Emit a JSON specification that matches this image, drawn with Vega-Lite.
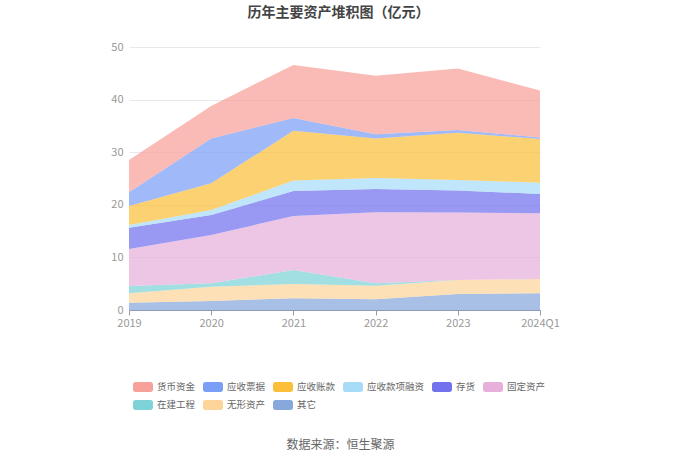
{
  "$schema": "https://vega.github.io/schema/vega-lite/v6.json",
  "autosize": "none",
  "width": 411,
  "height": 263,
  "padding": {"left": 129, "top": 47, "right": 140, "bottom": 150},
  "background": "white",
  "config": {
    "font": "Noto Sans CJK SC",
    "view": {"stroke": null}
  },
  "title": {
    "text": "历年主要资产堆积图（亿元）",
    "fontSize": 14,
    "fontWeight": "bold",
    "color": "#444444",
    "anchor": "middle",
    "dx": 4,
    "offset": 21
  },
  "data": {
    "values": [
      {"period": "2019", "item": "其它", "rank": 1, "value": 1.39},
      {"period": "2019", "item": "无形资产", "rank": 2, "value": 1.78},
      {"period": "2019", "item": "在建工程", "rank": 3, "value": 1.39},
      {"period": "2019", "item": "固定资产", "rank": 4, "value": 7.04},
      {"period": "2019", "item": "存货", "rank": 5, "value": 4.05},
      {"period": "2019", "item": "应收款项融资", "rank": 6, "value": 0.51},
      {"period": "2019", "item": "应收账款", "rank": 7, "value": 3.61},
      {"period": "2019", "item": "应收票据", "rank": 8, "value": 2.6},
      {"period": "2019", "item": "货币资金", "rank": 9, "value": 6.13},
      {"period": "2020", "item": "其它", "rank": 1, "value": 1.71},
      {"period": "2020", "item": "无形资产", "rank": 2, "value": 2.73},
      {"period": "2020", "item": "在建工程", "rank": 3, "value": 0.63},
      {"period": "2020", "item": "固定资产", "rank": 4, "value": 9.19},
      {"period": "2020", "item": "存货", "rank": 5, "value": 3.8},
      {"period": "2020", "item": "应收款项融资", "rank": 6, "value": 0.94},
      {"period": "2020", "item": "应收账款", "rank": 7, "value": 5.08},
      {"period": "2020", "item": "应收票据", "rank": 8, "value": 8.52},
      {"period": "2020", "item": "货币资金", "rank": 9, "value": 6.2},
      {"period": "2021", "item": "其它", "rank": 1, "value": 2.22},
      {"period": "2021", "item": "无形资产", "rank": 2, "value": 2.72},
      {"period": "2021", "item": "在建工程", "rank": 3, "value": 2.66},
      {"period": "2021", "item": "固定资产", "rank": 4, "value": 10.27},
      {"period": "2021", "item": "存货", "rank": 5, "value": 4.73},
      {"period": "2021", "item": "应收款项融资", "rank": 6, "value": 2.0},
      {"period": "2021", "item": "应收账款", "rank": 7, "value": 9.5},
      {"period": "2021", "item": "应收票据", "rank": 8, "value": 2.4},
      {"period": "2021", "item": "货币资金", "rank": 9, "value": 10.1},
      {"period": "2022", "item": "其它", "rank": 1, "value": 2.03},
      {"period": "2022", "item": "无形资产", "rank": 2, "value": 2.6},
      {"period": "2022", "item": "在建工程", "rank": 3, "value": 0.44},
      {"period": "2022", "item": "固定资产", "rank": 4, "value": 13.5},
      {"period": "2022", "item": "存货", "rank": 5, "value": 4.43},
      {"period": "2022", "item": "应收款项融资", "rank": 6, "value": 2.1},
      {"period": "2022", "item": "应收账款", "rank": 7, "value": 7.5},
      {"period": "2022", "item": "应收票据", "rank": 8, "value": 0.8},
      {"period": "2022", "item": "货币资金", "rank": 9, "value": 11.15},
      {"period": "2023", "item": "其它", "rank": 1, "value": 3.04},
      {"period": "2023", "item": "无形资产", "rank": 2, "value": 2.66},
      {"period": "2023", "item": "在建工程", "rank": 3, "value": 0.02},
      {"period": "2023", "item": "固定资产", "rank": 4, "value": 12.8},
      {"period": "2023", "item": "存货", "rank": 5, "value": 4.2},
      {"period": "2023", "item": "应收款项融资", "rank": 6, "value": 2.0},
      {"period": "2023", "item": "应收账款", "rank": 7, "value": 9.0},
      {"period": "2023", "item": "应收票据", "rank": 8, "value": 0.5},
      {"period": "2023", "item": "货币资金", "rank": 9, "value": 11.7},
      {"period": "2024Q1", "item": "其它", "rank": 1, "value": 3.17},
      {"period": "2024Q1", "item": "无形资产", "rank": 2, "value": 2.73},
      {"period": "2024Q1", "item": "在建工程", "rank": 3, "value": 0.01},
      {"period": "2024Q1", "item": "固定资产", "rank": 4, "value": 12.5},
      {"period": "2024Q1", "item": "存货", "rank": 5, "value": 3.65},
      {"period": "2024Q1", "item": "应收款项融资", "rank": 6, "value": 2.15},
      {"period": "2024Q1", "item": "应收账款", "rank": 7, "value": 8.3},
      {"period": "2024Q1", "item": "应收票据", "rank": 8, "value": 0.3},
      {"period": "2024Q1", "item": "货币资金", "rank": 9, "value": 8.9}
    ]
  },
  "mark": {"type": "area", "fillOpacity": 0.72, "strokeWidth": 0},
  "encoding": {
    "x": {
      "field": "period",
      "type": "ordinal",
      "sort": null,
      "scale": {"type": "point", "padding": 0},
      "axis": {
        "labelAngle": 0,
        "labelColor": "#999999",
        "labelFontSize": 11,
        "labelPadding": 2,
        "domainColor": "#8e9bb3",
        "tickColor": "#8e9bb3",
        "tickSize": 5,
        "grid": false,
        "title": "数据来源：恒生聚源",
        "titleFontSize": 12,
        "titleFontWeight": "normal",
        "titleColor": "#666666",
        "titlePadding": 111,
        "titleX": 211,
        "titleAlign": "center"
      }
    },
    "y": {
      "field": "value",
      "type": "quantitative",
      "stack": "zero",
      "scale": {"domain": [0, 50]},
      "axis": {
        "values": [0, 10, 20, 30, 40, 50],
        "title": null,
        "domain": false,
        "ticks": false,
        "labelColor": "#999999",
        "labelFontSize": 11,
        "labelPadding": 6,
        "gridColor": "#e8e8e8"
      }
    },
    "color": {
      "field": "item",
      "type": "nominal",
      "scale": {
        "domain": ["货币资金", "应收票据", "应收账款", "应收款项融资", "存货", "固定资产", "在建工程", "无形资产", "其它"],
        "range": ["#f8a09a", "#7b9ef7", "#fbbf3a", "#a6dcf8", "#7272ee", "#e6b0db", "#7dd3d8", "#fdd49a", "#86a8dc"]
      },
      "legend": {
        "orient": "none",
        "direction": "horizontal",
        "legendX": 4,
        "legendY": 330,
        "title": null,
        "columns": 6,
        "columnPadding": 7,
        "rowPadding": 3,
        "labelFontSize": 9.5,
        "labelColor": "#666666",
        "labelOffset": 4,
        "symbolType": "M-0.75,-0.5H0.75A0.25,0.25 0 0 1 1,-0.25V0.25A0.25,0.25 0 0 1 0.75,0.5H-0.75A0.25,0.25 0 0 1 -1,0.25V-0.25A0.25,0.25 0 0 1 -0.75,-0.5Z",
        "symbolSize": 400,
        "symbolOpacity": 1,
        "symbolStrokeWidth": 0
      }
    },
    "order": {"field": "rank", "type": "quantitative", "sort": "ascending"}
  }
}
